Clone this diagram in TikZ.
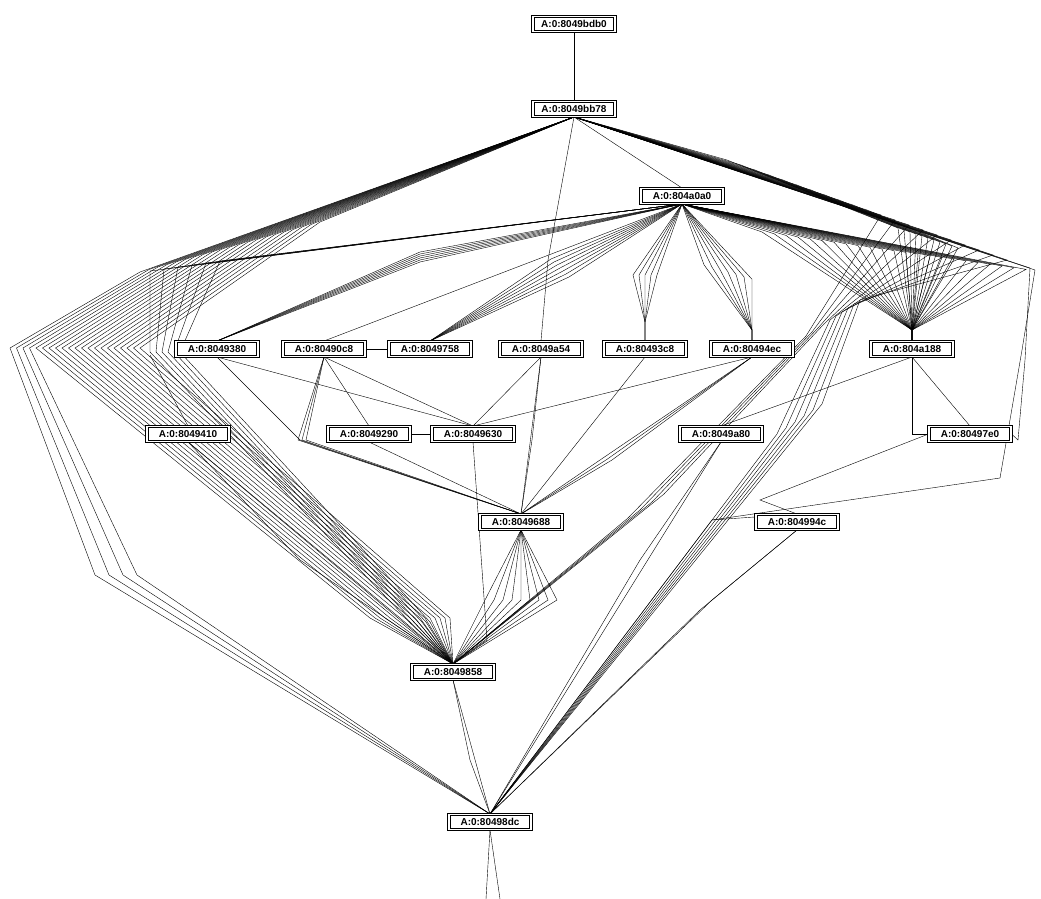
\documentclass[tikz,border=0pt]{standalone}
\usepackage{fontspec}
\setmainfont{Liberation Sans}
\usetikzlibrary{backgrounds}
\begin{document}
\begin{tikzpicture}[x=1pt,y=-1pt,
  lbl/.style={draw, double, double distance=1.4pt, line width=1pt, minimum width=82pt, minimum height=15pt, inner sep=1pt, fill=white, font=\fontsize{10}{10}\selectfont\bfseries},
  edge/.style={line width=1.1pt, line join=round}]
\useasboundingbox (0,0) rectangle (1041,899);
\node[lbl] (n1) at (574,24) {A:0:8049bdb0};
\node[lbl] (n2) at (574,109) {A:0:8049bb78};
\node[lbl] (n3) at (682,196) {A:0:804a0a0};
\node[lbl] (n4) at (217,349) {A:0:8049380};
\node[lbl] (n5) at (324,349) {A:0:80490c8};
\node[lbl] (n6) at (430,349) {A:0:8049758};
\node[lbl] (n7) at (541,349) {A:0:8049a54};
\node[lbl] (n8) at (645,349) {A:0:80493c8};
\node[lbl] (n9) at (752,349) {A:0:80494ec};
\node[lbl] (n10) at (912,349) {A:0:804a188};
\node[lbl] (n11) at (188,434) {A:0:8049410};
\node[lbl] (n12) at (369,434) {A:0:8049290};
\node[lbl] (n13) at (473,434) {A:0:8049630};
\node[lbl] (n14) at (721,434) {A:0:8049a80};
\node[lbl] (n15) at (970,434) {A:0:80497e0};
\node[lbl] (n16) at (521,522) {A:0:8049688};
\node[lbl] (n17) at (797,522) {A:0:804994c};
\node[lbl] (n18) at (453,672) {A:0:8049858};
\node[lbl] (n19) at (490,822) {A:0:80498dc};
\coordinate (e1) at (486,899);
\coordinate (e2) at (500,899);
\begin{scope}[on background layer, edge]
% top
\draw (n1) -- (n2);
\draw (n2.south) -- (n3.north);
\draw (n2.south) -- (548,260) -- (n7.north);
% left fan from n2
\foreach \i in {0,...,3}
  \draw (n2.south) -- ({140+9*\i},{272-2.5*\i}) -- ({10+6.5*\i},348) -- ({95+14*\i},575) -- (n19.north);
\foreach \i in {4,...,20}
  \draw (n2.south) -- ({140+9*\i},{272-2.5*\i}) -- ({10+6.5*\i},348) -- ({350+5*\i},618) -- (n18.north);
% lines from n3 to the left
\foreach \i in {0,...,5}
  \draw (n3.south) -- ({150+14*\i},{271-2*\i}) -- ({150+6*\i},352) -- ({410+4*\i},622) -- (n18.north);
% n3 to n4 bundle
\foreach \d in {0,2,...,10}
  \draw (n3.south) -- (420,{252+\d}) -- (n4.north);
\draw (n3.south) -- (n5.north);
\foreach \d in {-9,-6,...,9}
  \draw (n3.south) -- ({560+\d},{268+\d}) -- (n6.north);
% n3 to n8 diamond
\foreach \d in {-12,-6,0,6,12}
  \draw (n3.south) -- ({645+\d},275) -- (645,322) -- (n8.north);
% n3 to n9 fan
\foreach \d in {-24,-16,...,24}
  \draw (n3.south) -- ({728+\d},{272+0.3*\d}) -- (752,330) -- (n9.north);
% n3 to n10 triangle
\foreach \i in {0,...,22}
  \draw (n3.south) -- ({762+12*\i},{232+1.7*\i}) -- (912,330) -- (n10.north);
% right fan from n2
\draw (n2.south) -- (1035,270) -- (1022,350) -- (1000,478) -- (712,520) -- (n19.north);
\draw (n2.south) -- (1030,268) -- (1025,360) -- (1018,440) -- (n15.east);
\foreach \i in {2,...,7}
  \draw (n2.south) -- ({1035-14*\i},{270-5*\i}) -- ({872-6*\i},{292+4*\i}) -- ({840-9*\i},{392+6*\i}) -- (n19.north);
\foreach \i in {8,...,11}
  \draw (n2.south) -- ({1035-14*\i},{270-5*\i}) -- ({872-6*\i},{292+4*\i}) -- ({760-12*\i},{430+8*\i}) -- (n18.north);
\foreach \i in {12,...,22}
  \draw (n2.south) -- ({1035-14*\i},{270-5*\i}) -- ({1030-6*\i},{272-2*\i}) -- (912,330);
% middle edges
\draw (n5.east) -- (n6.west);
\draw (n12.east) -- (n13.west);
\draw (n4.south) -- (n13.north);
\draw (n4.south) -- (300,440) -- (n16.north);
\foreach \d in {0,4,8}
  \draw (n5.south) -- ({298+\d},440) -- (n16.north);
\draw (n5.south) -- (n12.north);
\draw (n5.south) -- (n13.north);
\draw (n12.south) -- (n16.north);
\draw (n7.south) -- (n13.north);
\draw (n7.south) -- (n16.north);
\draw (n7.south) -- (532,440) -- (n16.north);
\draw (n8.south) -- (n16.north);
\draw (n9.south) -- (n13.north);
\foreach \d in {0,6,12}
  \draw (n9.south) -- ({600+\d},460) -- (n16.north);
\draw (n10.south) -- (n14.north);
\draw (n10.south) -- (912,434) -- (n15.west);
\draw (n10.south) -- (n15.north);
\draw (n13.south) -- (487,640) -- (n18.north);
\draw (n11.south) -- (n18.north);
\draw (n11.south) -- (300,560) -- (n18.north);
\draw (150,355) -- (n11.north);
\draw (n14.south) -- (n19.north);
\draw (n14.south) -- (640,560) -- (n19.north);
\draw (n15.west) -- (760,500) -- (n17.north);
\draw (712,520) -- (n17.north);
\draw (n17.south) -- (712,600) -- (n19.north);
\draw (n17.south) -- (700,610) -- (n19.north);
% n16 spike fan to n18
\foreach \d in {-36,-27,...,36}
  \draw (n16.south) -- ({521+\d},600) -- (n18.north);
% bottom
\draw (n18.south) -- (n19.north);
\draw (n18.south) -- (470,760) -- (n19.north);
\draw (n19.south) -- (e1);
\draw (n19.south) -- (e2);
\end{scope}
\end{tikzpicture}
\end{document}
